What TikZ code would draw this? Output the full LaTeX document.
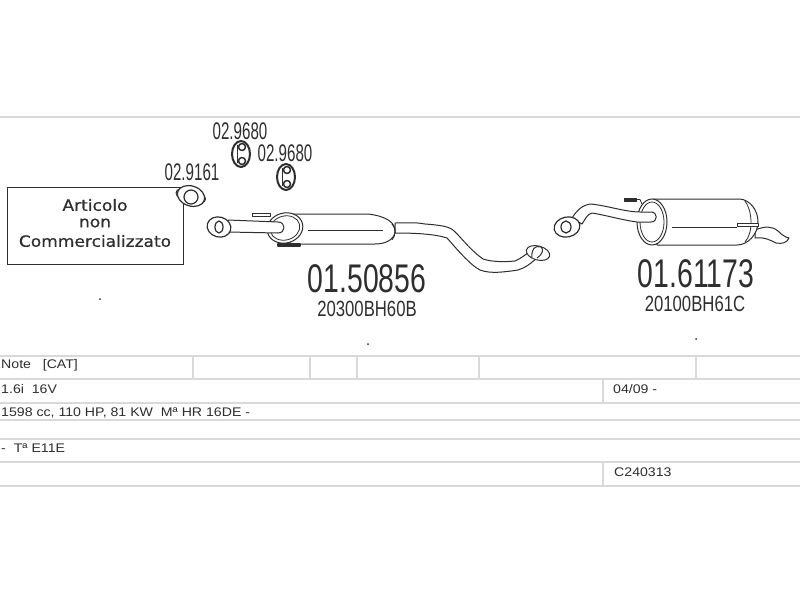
\documentclass[tikz,border=0pt]{standalone}
\usepackage{fontspec}
\setmainfont{Liberation Sans}
\newfontfamily\boxfont[FakeBold=0.5]{DejaVu Sans}
\definecolor{ink}{HTML}{2E2E2E}
\definecolor{rule}{HTML}{D9D9D9}
\newcommand{\px}[1]{\fontsize{#1}{#1}\selectfont}
\tikzset{
	part/.style={draw=ink, fill=white, line width=1pt, line join=round},
	thin part/.style={draw=ink, line width=0.8pt},
	table rule/.style={draw=rule, line width=1.3pt},
	main no/.style={inner sep=0, text=ink, font=\px{40}, xscale=0.71},
	oem no/.style={inner sep=0, text=ink, font=\px{22}, xscale=0.76},
	small no/.style={inner sep=0, text=ink, font=\px{24}, xscale=0.63},
	row text/.style={anchor=west, inner sep=0, text=ink, font=\px{12.5}, xscale=1.13},
	box text/.style={inner sep=0, text=ink, font={\boxfont\px{15.5}}, xscale=1.1}
}
\begin{document}
\begin{tikzpicture}[x=1pt, y=-1pt]
	\useasboundingbox (0,0) rectangle (800,600);
	% table
	\draw[table rule] (0,117) -- (800,117);
	\foreach \rowy in {356,379,403,420,439,462,486}
		\draw[table rule] (0,\rowy) -- (800,\rowy);
	\foreach \colx in {193,310,357,479,696}
		\draw[table rule] (\colx,356) -- (\colx,379);
	\draw[table rule] (603,379) -- (603,403);
	\draw[table rule] (603,462) -- (603,486);
	\node[row text] (note) at (1,365) {Note\ \ \ [CAT]};
	\node[row text] (engine) at (1,389) {1.6i\ \ 16V};
	\node[row text] (data) at (1,413) {1598 cc, 110 HP, 81 KW\ \ Mª HR 16DE -};
	\node[row text] (type) at (1,448) {-\ \ Tª E11E};
	\node[row text] (date) at (613,389) {04/09 -};
	\node[row text] (code) at (614,472) {C240313};
	% box
	\node[draw=ink, line width=0.9pt, minimum width=176pt, minimum height=77pt, inner sep=0] (notsold) at (95,225.5) {};
	\node[box text] (notsold a) at (95,205) {Articolo};
	\node[box text] (notsold b) at (95,223) {non};
	\node[box text] (notsold c) at (95,241) {Commercializzato};
	% gasket and hangers
	\draw[part] (180,193) circle[radius=4] (202,199) circle[radius=3.5];
	\draw[part, line width=1.2pt] (191,196) ellipse[x radius=14, y radius=10, rotate=-18];
	\draw[part, line width=1.2pt] (191,197) ellipse[x radius=7, y radius=7];
	\foreach \hx/\hy in {241/154,286/177} {
		\draw[part, line width=2pt] (\hx,\hy) ellipse[x radius=9, y radius=13];
		\draw[part, line width=1.5pt] (\hx+1,\hy-7) circle[radius=3.5] (\hx+1,\hy+7) circle[radius=3.5];
		\draw[thin part] (\hx-4,\hy-9) -- (\hx-4,\hy+9);
	}
	\node[small no] (gasket no) at (192,172) {02.9161};
	\node[small no] (hanger no a) at (240,131) {02.9680};
	\node[small no] (hanger no b) at (285,153) {02.9680};
	% front silencer
	\draw[part] (395,223) .. controls (405,223) and (415,222) .. (425,224) .. controls (438,225) and (448,226) .. (453,230)
		.. controls (460,236) and (470,250) .. (483,259) .. controls (492,262) and (505,262) .. (515,261)
		.. controls (520,259) and (525,255) .. (529,252) -- (537,258) .. controls (530,264) and (525,268) .. (518,270)
		.. controls (505,272) and (490,274) .. (480,270) .. controls (470,265) and (455,247) .. (447,238)
		.. controls (435,234) and (415,233) .. (395,233) -- cycle;
	\draw[part] (538,253) ellipse[x radius=12, y radius=7, rotate=-15];
	\draw[part] (532,258) .. controls (531,249) and (535,245) .. (541,247) .. controls (544,249) and (543,254) .. (537,258);
	\draw[part] (290,214) -- (368,214) .. controls (385,216) and (396,222) .. (395,232)
		.. controls (394,240) and (385,244) .. (375,244) -- (290,244) -- cycle;
	\draw[thin part] (308,230) -- (383,230);
	\draw[thin part] (392,224) .. controls (396,228) and (396,236) .. (392,240);
	\draw[part] (285,228) ellipse[x radius=18, y radius=15, rotate=15];
	\draw[thin part] (285,228) ellipse[x radius=15, y radius=12, rotate=15];
	\draw[part] (252,213) -- (270,213) -- (270,216) -- (252,216) -- cycle;
	\draw[part, line width=1.2pt] (278,244) -- (300,244) -- (300,246) -- (278,246) -- cycle;
	\draw[part] (228,220) -- (278,222) .. controls (286,222) and (286,233) .. (278,233) -- (228,232) -- cycle;
	\draw[part, line width=1.2pt] (219,227) ellipse[x radius=12, y radius=10, rotate=-15];
	\draw[part, line width=1.2pt] (219,227) ellipse[x radius=4, y radius=6];
	\node[main no] (front no) at (367,279) {01.50856};
	\node[oem no] (front oem) at (367,309) {20300BH60B};
	% rear silencer
	\draw[part] (755,230) .. controls (765,226) and (772,226) .. (778,231) .. controls (782,235) and (785,237) .. (789,238)
		.. controls (787,243) and (782,244) .. (776,243) .. controls (770,240) and (765,237) .. (755,238) -- cycle;
	\draw[part] (653,199) -- (740,199) .. controls (750,200) and (758,210) .. (758,222)
		.. controls (758,234) and (748,245) .. (737,245) -- (657,245) -- cycle;
	\draw[thin part] (745,201) .. controls (752,210) and (754,232) .. (745,242);
	\draw[thin part] (672,227) -- (737,227);
	\draw[part] (737,223) -- (758,223) -- (758,226) -- (737,226) -- cycle;
	\draw[part] (652,222) ellipse[x radius=15, y radius=23];
	\draw[thin part] (652,222) ellipse[x radius=12, y radius=20];
	\draw[part] (572,218) .. controls (576,212) and (580,206) .. (590,204) .. controls (605,205) and (625,212) .. (640,212)
		-- (651,212) .. controls (658,212) and (658,222) .. (651,222) -- (637,222)
		.. controls (622,220) and (605,215) .. (592,213) .. controls (587,214) and (585,220) .. (582,224) -- cycle;
	\draw[part, line width=1.2pt] (567,227) ellipse[x radius=13, y radius=10, rotate=12];
	\draw[part, line width=1.2pt] (566,227) ellipse[x radius=5, y radius=6];
	\draw[part, fill=ink] (624,198) rectangle (636,201);
	\draw[thin part] (636,199.5) -- (640,199.5) -- (642,204);
	\node[main no] (rear no) at (696,274) {01.61173};
	\node[oem no] (rear oem) at (695,304) {20100BH61C};
	% stray dots
	\fill[ink] (100,299) circle[radius=1] (368,344) circle[radius=1] (696,339) circle[radius=1];
\end{tikzpicture}
\end{document}
